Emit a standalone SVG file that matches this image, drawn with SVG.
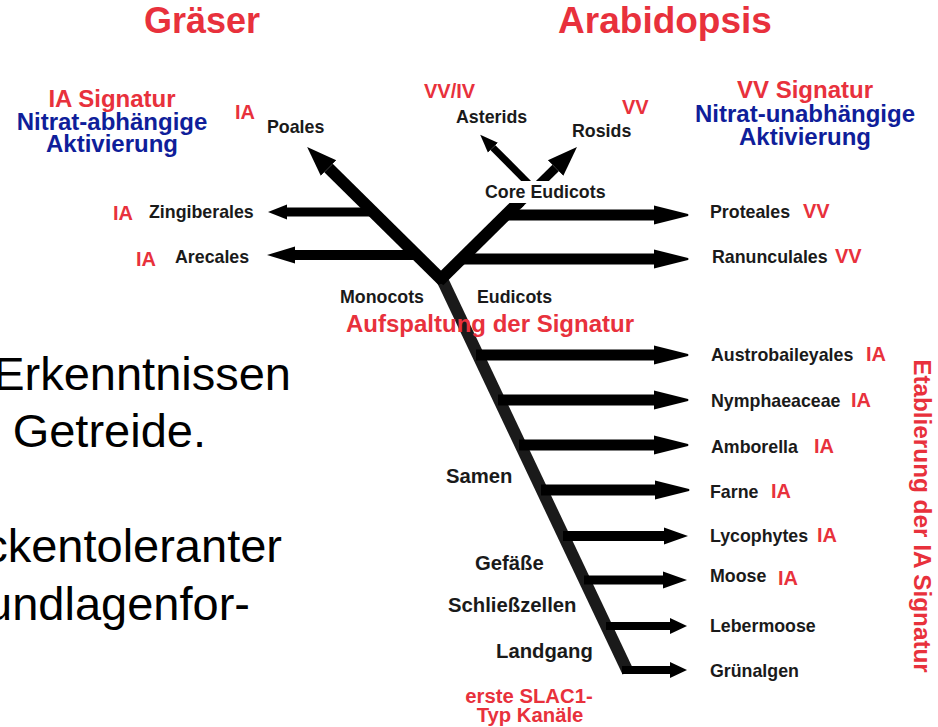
<svg xmlns="http://www.w3.org/2000/svg" width="938" height="727" viewBox="0 0 938 727">
<style>
text{font-family:"Liberation Sans",Arial,sans-serif;font-weight:bold}
.t{font-size:17.8px;fill:#1a1a1a}
.s{font-size:20.3px;fill:#1a1a1a}
.r{fill:#e8313c}
.b{fill:#0f1e9a}
.tag{font-size:20px;fill:#e8313c}
.big{font-size:47px;font-weight:normal;fill:#000}
.ln{fill:none;stroke:#000;stroke-linecap:butt}
</style>
<defs>
<marker id="hBig" markerUnits="userSpaceOnUse" viewBox="0 -12 40 24" refX="0" refY="0" markerWidth="40" markerHeight="24" orient="auto"><path d="M0,-9.5 L34,-1 Q35,0 34,1 L0,9.5 Z" fill="#000"/></marker>
<marker id="hMed" markerUnits="userSpaceOnUse" viewBox="0 -12 40 24" refX="0" refY="0" markerWidth="40" markerHeight="24" orient="auto"><path d="M0,-8.5 L24,0 L0,8.5 Z" fill="#000"/></marker>
<marker id="hSm" markerUnits="userSpaceOnUse" viewBox="0 -12 40 24" refX="0" refY="0" markerWidth="40" markerHeight="24" orient="auto"><path d="M0,-8 L17,0 L0,8 Z" fill="#000"/></marker>
<marker id="hPo" markerUnits="userSpaceOnUse" viewBox="0 -14 40 28" refX="0" refY="0" markerWidth="40" markerHeight="28" orient="auto"><path d="M0,-11 L30,0 L0,11 Z" fill="#000"/></marker>
<marker id="hZi" markerUnits="userSpaceOnUse" viewBox="0 -12 40 24" refX="0" refY="0" markerWidth="40" markerHeight="24" orient="auto"><path d="M0,-7.5 L19,0 L0,7.5 Z" fill="#000"/></marker>
<marker id="hAr" markerUnits="userSpaceOnUse" viewBox="0 -12 40 24" refX="0" refY="0" markerWidth="40" markerHeight="24" orient="auto"><path d="M0,-8.5 L28,0 L0,8.5 Z" fill="#000"/></marker>
<marker id="hAs" markerUnits="userSpaceOnUse" viewBox="0 -12 40 24" refX="0" refY="0" markerWidth="40" markerHeight="24" orient="auto"><path d="M0,-7 L18,0 L0,7 Z" fill="#000"/></marker>
</defs>

<g id="background-text">
<text class="big" x="291" y="390" text-anchor="end">Erkenntnissen</text>
<text class="big" x="206" y="447" text-anchor="end">Getreide.</text>
<text class="big" x="282" y="562" text-anchor="end">ckentoleranter</text>
<text class="big" x="250" y="620" text-anchor="end">undlagenfor-</text>
</g>

<g id="connectors">
<path class="ln" d="M441,277 L628,672" style="stroke:#1a1a1a" stroke-width="12"/>
<path class="ln" d="M443,281 L328.5,168" stroke-width="12" marker-end="url(#hPo)"/>
<path class="ln" d="M439,281 L520,201" stroke-width="12"/>
<circle cx="441" cy="278" r="6" fill="#000"/>
<path class="ln" d="M518,205 L555.6,168" stroke-width="9" marker-end="url(#hPo)"/>
<path class="ln" d="M535,190 L492.9,147.6" stroke-width="7" marker-end="url(#hAs)"/>
<path class="ln" d="M374,212 L287,212" stroke-width="9" marker-end="url(#hZi)"/>
<path class="ln" d="M418,255 L295,255" stroke-width="10" marker-end="url(#hAr)"/>
<path class="ln" d="M506,215 L654,215" stroke-width="11" marker-end="url(#hBig)"/>
<path class="ln" d="M461,259 L654,259" stroke-width="11" marker-end="url(#hBig)"/>
<path class="ln" d="M476,355 L654,355" stroke-width="11" marker-end="url(#hBig)"/>
<path class="ln" d="M498,400 L654,400" stroke-width="11" marker-end="url(#hBig)"/>
<path class="ln" d="M519,445 L654,445" stroke-width="11" marker-end="url(#hBig)"/>
<path class="ln" d="M541,490 L655,490" stroke-width="11" marker-end="url(#hBig)"/>
<path class="ln" d="M563,536 L664,536" stroke-width="10" marker-end="url(#hMed)"/>
<path class="ln" d="M584,580 L663,580" stroke-width="9" marker-end="url(#hMed)"/>
<path class="ln" d="M606,626 L670,626" stroke-width="8" marker-end="url(#hSm)"/>
<path class="ln" d="M622,670 L670,670" stroke-width="8" marker-end="url(#hSm)"/>
</g>

<g id="titles">
<text x="202" y="33" font-size="36" class="r" text-anchor="middle">Gräser</text>
<text x="665" y="33" font-size="37" class="r" text-anchor="middle">Arabidopsis</text>
</g>

<g id="legend-left" text-anchor="middle" font-size="24">
<text x="112" y="107" class="r">IA Signatur</text>
<text x="112" y="130" class="b">Nitrat-abhängige</text>
<text x="112" y="152" class="b">Aktivierung</text>
</g>

<g id="legend-right" text-anchor="middle" font-size="24">
<text x="805" y="98" class="r">VV Signatur</text>
<text x="805" y="122" class="b">Nitrat-unabhängige</text>
<text x="805" y="145" class="b">Aktivierung</text>
</g>

<g id="node-poales"><text class="tag" x="235" y="119">IA</text><text class="t" x="267" y="133">Poales</text></g>
<g id="node-zingiberales"><text class="tag" x="113" y="220">IA</text><text class="t" x="149" y="218">Zingiberales</text></g>
<g id="node-arecales"><text class="tag" x="136" y="266">IA</text><text class="t" x="175" y="263">Arecales</text></g>
<g id="node-monocots"><text class="t" x="340" y="303">Monocots</text></g>
<g id="node-eudicots"><text class="t" x="477" y="303">Eudicots</text></g>
<g id="node-split"><text x="346" y="332" font-size="24" class="r">Aufspaltung der Signatur</text></g>
<g id="node-asterids"><text class="tag" x="424" y="98" font-size="19.5">VV/IV</text><text class="t" x="456" y="123">Asterids</text></g>
<g id="node-rosids"><text class="tag" x="622" y="114">VV</text><text class="t" x="572" y="137">Rosids</text></g>
<g id="node-core"><rect x="483" y="181" width="126" height="22" fill="#fff"/><text class="t" x="485" y="198" font-size="18.8">Core Eudicots</text></g>
<g id="node-proteales"><text class="t" x="710" y="218">Proteales</text><text class="tag" x="803" y="218">VV</text></g>
<g id="node-ranunculales"><text class="t" x="712" y="263">Ranunculales</text><text class="tag" x="835" y="263">VV</text></g>
<g id="node-austro"><text class="t" x="711" y="361">Austrobaileyales</text><text class="tag" x="866" y="361">IA</text></g>
<g id="node-nymph"><text class="t" x="711" y="407">Nymphaeaceae</text><text class="tag" x="851" y="407">IA</text></g>
<g id="node-amborella"><text class="t" x="711" y="453">Amborella</text><text class="tag" x="814" y="453">IA</text></g>
<g id="node-farne"><text class="t" x="710" y="498">Farne</text><text class="tag" x="771" y="498">IA</text></g>
<g id="node-lyco"><text class="t" x="710" y="542">Lycophytes</text><text class="tag" x="817" y="542">IA</text></g>
<g id="node-moose"><text class="t" x="710" y="582">Moose</text><text class="tag" x="778" y="585">IA</text></g>
<g id="node-lebermoose"><text class="t" x="710" y="632">Lebermoose</text></g>
<g id="node-gruenalgen"><text class="t" x="710" y="677">Grünalgen</text></g>
<g id="node-samen"><text class="s" x="446" y="483">Samen</text></g>
<g id="node-gefaesse"><text class="s" x="475" y="570">Gefäße</text></g>
<g id="node-schliess"><text class="s" x="448" y="612">Schließzellen</text></g>
<g id="node-landgang"><text class="s" x="496" y="658">Landgang</text></g>
<g id="node-slac" text-anchor="middle"><text class="r" font-size="20.3" x="529" y="703">erste SLAC1-</text><text class="r" font-size="20.3" x="530" y="722">Typ Kanäle</text></g>
<g id="side-label"><text class="r" font-size="24.3" text-anchor="middle" transform="translate(914,516) rotate(90)">Etablierung der IA Signatur</text></g>
</svg>
